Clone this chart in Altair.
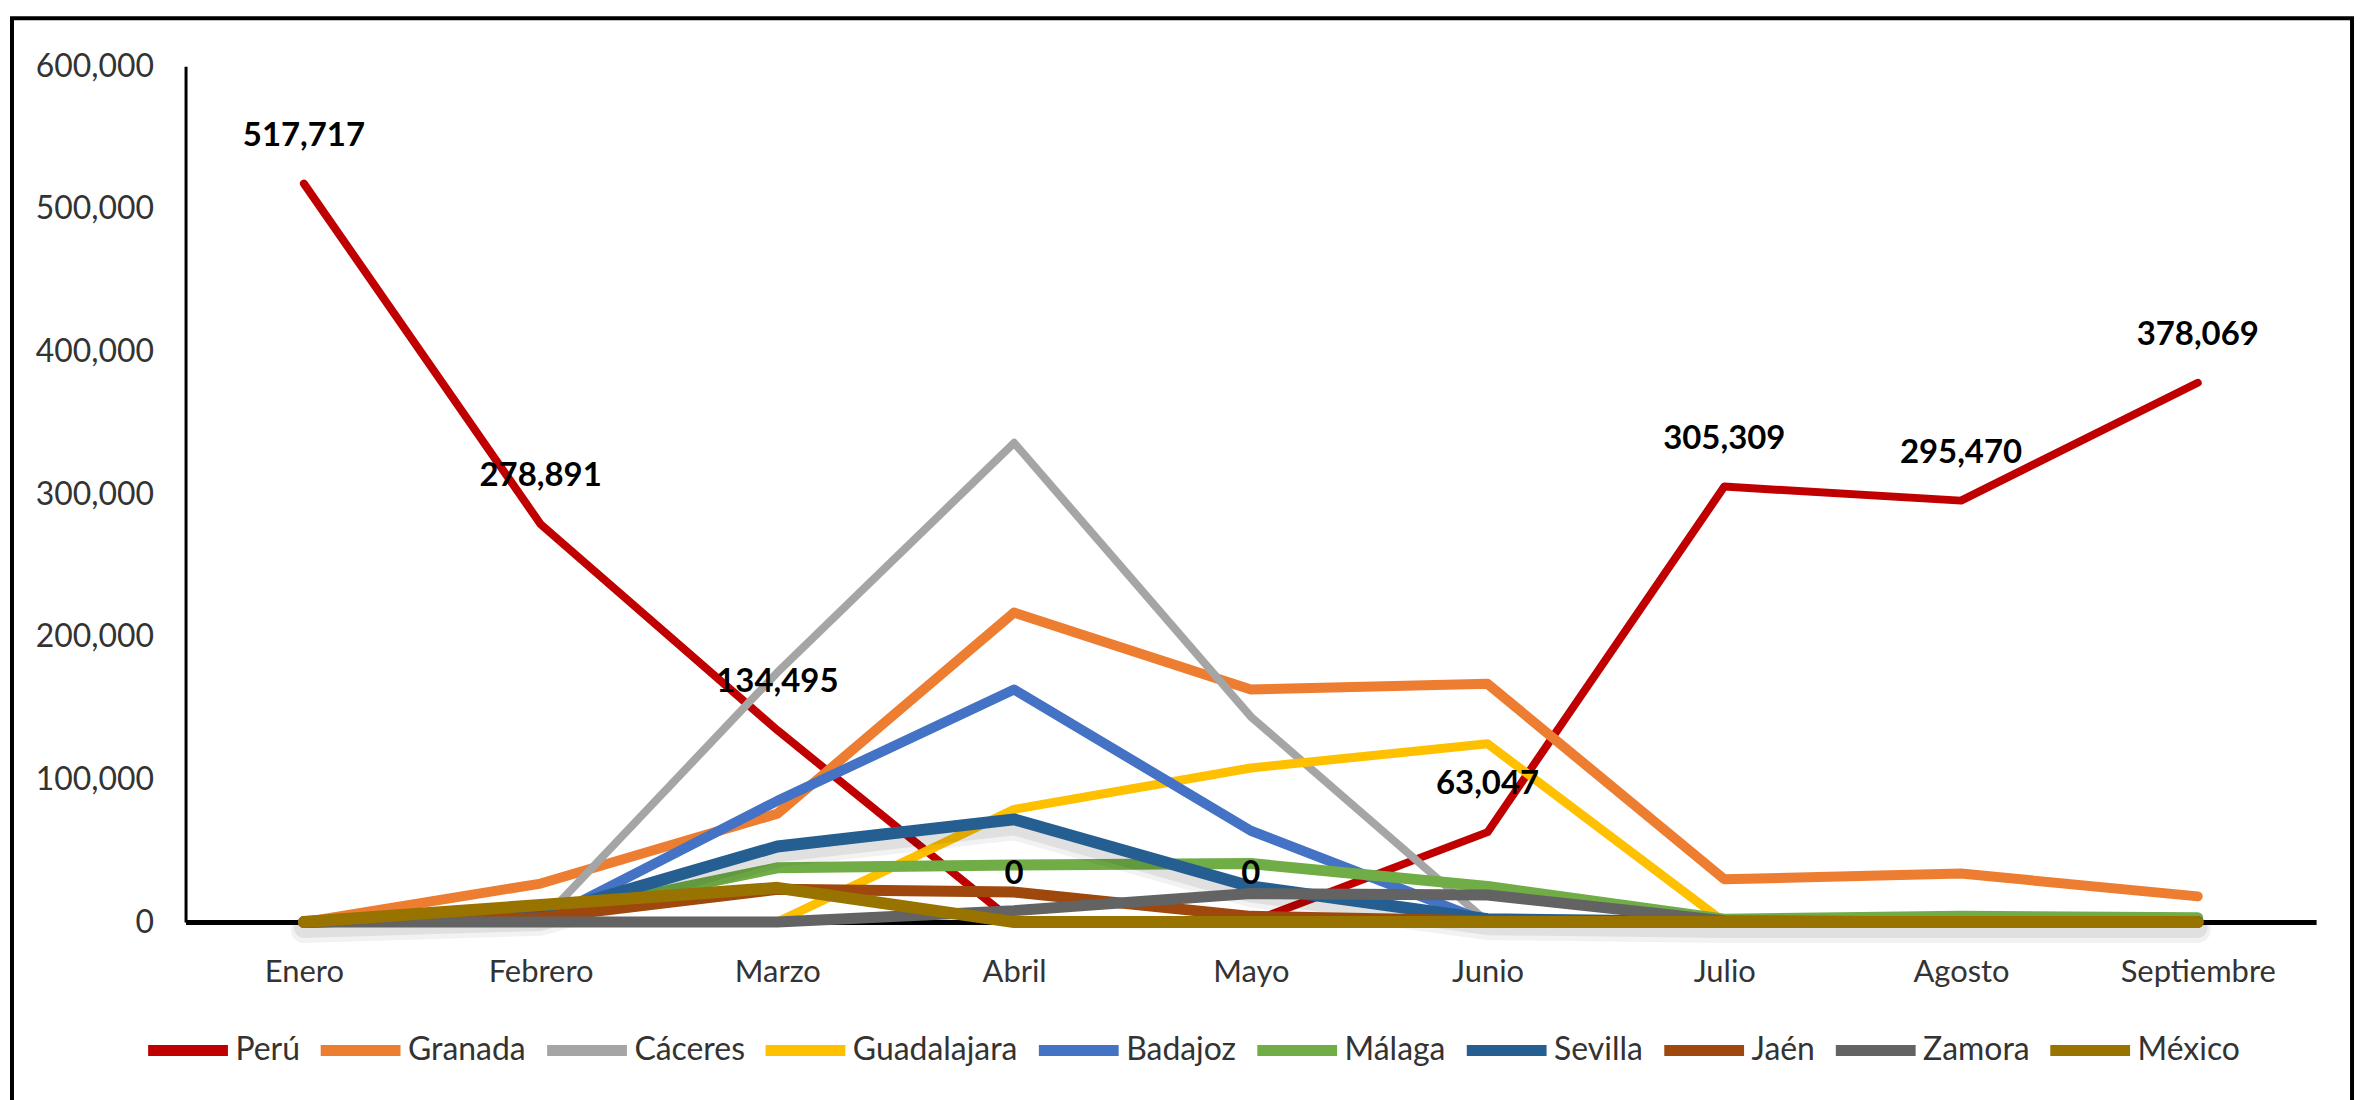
import altair as alt
import pandas as pd

months = ["Enero", "Febrero", "Marzo", "Abril", "Mayo", "Junio", "Julio", "Agosto", "Septiembre"]
series_names = ["Perú", "Granada", "Cáceres", "Guadalajara", "Badajoz", "Málaga", "Sevilla", "Jaén", "Zamora", "México"]
series_colors = ["#C00000", "#ED7D31", "#A5A5A5", "#FFC000", "#4472C4", "#70AD47", "#255E91", "#9E480E", "#636363", "#997300"]

peru = [517717, 278891, 134495, 0, 0, 63047, 305309, 295470, 378069]
granada = [0, 27000, 76000, 217000, 163000, 167000, 30000, 34000, 18000]
caceres = [0, 0, 175000, 336000, 144000, 0, 0, 0, 0]
guadalajara = [0, 0, 0, 79000, 108000, 125000, 0, 0, 0]
badajoz = [0, 0, 85000, 163000, 64000, 0, 0, 0, 0]
malaga = [0, 4000, 38000, 40000, 41000, 25000, 2000, 4000, 3000]
sevilla = [0, 5000, 53000, 72000, 25000, 2000, 0, 0, 0]
jaen = [0, 3000, 23000, 21000, 4000, 1000, 0, 0, 0]
zamora = [0, 0, 0, 8000, 20000, 19000, 1000, 0, 0]
mexico = [0, 12000, 24000, 0, 0, 0, 0, 0, 0]

all_values = [peru, granada, caceres, guadalajara, badajoz, malaga, sevilla, jaen, zamora, mexico]
stroke_widths = [8, 10, 8, 9, 10, 11, 12, 11, 11, 12]

rows = []
for name, vals in zip(series_names, all_values):
    for m, v in zip(months, vals):
        rows.append({"serie": name, "mes": m, "valor": v})
df = pd.DataFrame(rows)

FONT = "Lato, Carlito, sans-serif"
TXT = "#333333"
W, H = 2136, 858

x_enc = alt.X("mes:N", sort=months,
              scale=alt.Scale(type="point", domain=months, padding=0.5),
              axis=alt.Axis(title=None, domainColor="black", domainWidth=5, ticks=False,
                            labelPadding=36, labelFontSize=31, labelColor=TXT,
                            labelFont=FONT, grid=False, labelAngle=0))
y_enc = alt.Y("valor:Q",
              scale=alt.Scale(domain=[0, 600000], nice=False),
              axis=alt.Axis(title=None, values=[0, 100000, 200000, 300000, 400000, 500000, 600000],
                            format=",d", domainColor="black", domainWidth=3, ticks=False,
                            labelPadding=32, labelFontSize=32, labelColor=TXT,
                            labelFont=FONT, grid=False))
color_enc = alt.Color("serie:N",
                      scale=alt.Scale(domain=series_names, range=series_colors),
                      legend=alt.Legend(title=None, orient="none", direction="horizontal",
                                        legendX=-43, legendY=941, symbolType="stroke",
                                        symbolSize=6400, symbolStrokeWidth=11,
                                        labelFontSize=32, labelFont=FONT, labelColor=TXT,
                                        labelOffset=2, columnPadding=-2, padding=0,
                                        labelLimit=400, columns=10))

base = alt.Chart(df)
layers = []

frame = alt.Chart(pd.DataFrame({"k": [0]})).mark_rect(
    fillOpacity=0, stroke="black", strokeWidth=4
).encode(x=alt.value(-174), x2=alt.value(W + 36), y=alt.value(-48), y2=alt.value(H + 300))
layers.append(frame)

for name, sw in zip(series_names, stroke_widths):
    if name == "Sevilla":
        for op, extra, off in [(0.05, 14, 8), (0.07, 8, 6)]:
            shadow = base.transform_filter(alt.datum.serie == name).mark_line(
                color="black", opacity=op, strokeWidth=sw + extra, yOffset=off,
                strokeJoin="round", strokeCap="round"
            ).encode(x=x_enc, y=y_enc)
            layers.append(shadow)
    line = base.transform_filter(alt.datum.serie == name).mark_line(
        strokeWidth=sw, strokeJoin="round", strokeCap="round"
    ).encode(x=x_enc, y=y_enc, color=color_enc)
    layers.append(line)

labels = base.transform_filter(alt.datum.serie == "Perú").mark_text(
    dy=-48, fontSize=33, fontWeight="bold", font=FONT, color="black"
).encode(x=x_enc, y=y_enc, text=alt.Text("valor:Q", format=",d"))
layers.append(labels)

chart = alt.layer(*layers).properties(
    width=W, height=H,
    autosize=alt.AutoSizeParams(type="none"),
    padding={"left": 178, "top": 57, "right": 45, "bottom": 177},
    background="white"
).configure_view(stroke=None)

chart.save("out.html", embed_options={"renderer": "svg", "actions": False})
